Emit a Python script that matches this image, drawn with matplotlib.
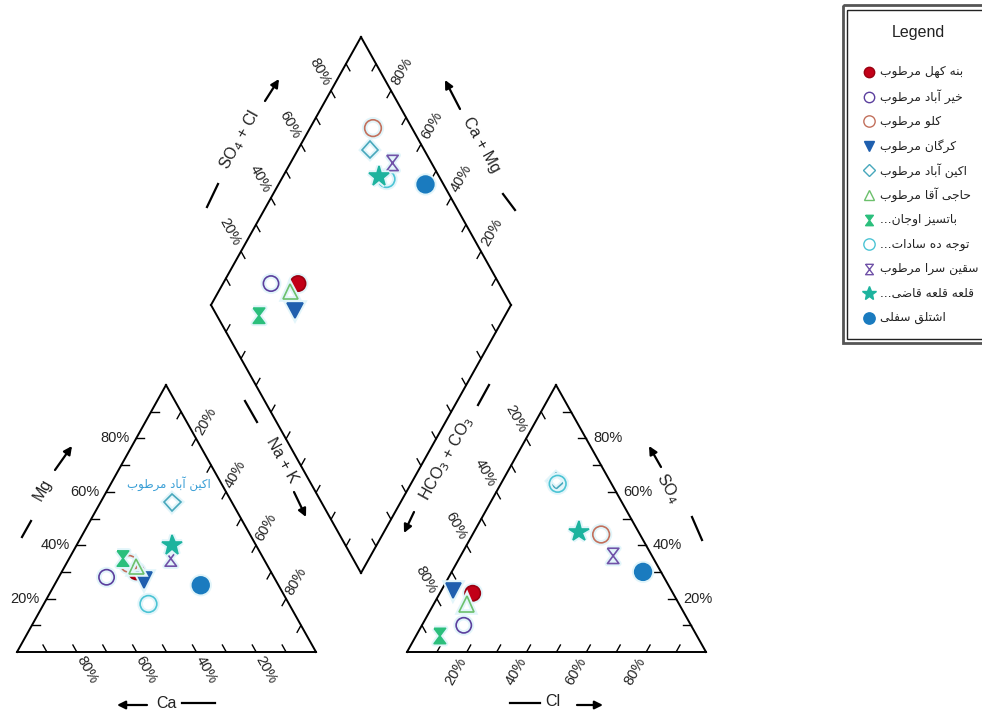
import matplotlib
matplotlib.use('Agg')
import matplotlib.pyplot as plt
import matplotlib.patheffects as pe
from matplotlib.patches import Rectangle
import numpy as np

# Sample names (Persian, logical order)
names = ['بنه کهل مرطوب', 'خیر آباد مرطوب', 'کلو مرطوب', 'کرگان مرطوب',
         'اکین آباد مرطوب', 'حاجی آقا مرطوب', 'باتسیز اوجان...',
         'توجه ده سادات...', 'سقین سرا مرطوب', 'قلعه قلعه قاضی...',
         'اشتلق سفلی']

# Cations (% meq/l)
ca = np.array([45, 56, 46, 44, 20, 44, 47, 47, 31, 28, 26])
mg = np.array([30, 28, 33, 27, 56, 32, 35, 18, 35, 40, 25])
nak = 100 - ca - mg

# Anions (% meq/l)
so4 = np.array([22, 10, 44, 23, 64, 18, 6, 63, 36, 45, 30])
cl = np.array([11, 14, 43, 4, 18, 11, 8, 19, 51, 35, 64])
hco3 = 100 - so4 - cl

# marker styles
hourglass = [(-0.75, 1), (0.75, 1), (0, 0), (0.75, -1), (-0.75, -1), (0, 0), (-0.75, 1)]
styles = [
    dict(marker='o', mfc='#c20018', mec='#9a0010', ms=11),
    dict(marker='o', mfc='none', mec='#5b3f9e', ms=11),
    dict(marker='o', mfc='none', mec='#c2705c', ms=12),
    dict(marker='v', mfc='#1f5fae', mec='#1f5fae', ms=11),
    dict(marker='D', mfc='none', mec='#48a8bc', ms=8.5),
    dict(marker='^', mfc='none', mec='#6cc06c', ms=11),
    dict(marker=hourglass, mfc='#2bbf7c', mec='#2bbf7c', ms=11),
    dict(marker='o', mfc='none', mec='#4cc4d4', ms=12),
    dict(marker=hourglass, mfc='none', mec='#7052a8', ms=11),
    dict(marker='*', mfc='#1db39e', mec='#1db39e', ms=15),
    dict(marker='o', mfc='#1a7bbf', mec='#1a7bbf', ms=12),
]

# ---- simple Persian shaping (presentation forms, visual order) ----
FORMS = {
    '\u0627': '\uFE8D\uFE8E', '\u0622': '\uFE81\uFE82', '\u062F': '\uFEA9\uFEAA',
    '\u0631': '\uFEAD\uFEAE', '\u0632': '\uFEAF\uFEB0', '\u0648': '\uFEED\uFEEE',
    '\u0628': '\uFE8F\uFE90\uFE91\uFE92', '\u062A': '\uFE95\uFE96\uFE97\uFE98',
    '\u062C': '\uFE9D\uFE9E\uFE9F\uFEA0', '\u062D': '\uFEA1\uFEA2\uFEA3\uFEA4',
    '\u062E': '\uFEA5\uFEA6\uFEA7\uFEA8', '\u0633': '\uFEB1\uFEB2\uFEB3\uFEB4',
    '\u0634': '\uFEB5\uFEB6\uFEB7\uFEB8', '\u0636': '\uFEBD\uFEBE\uFEBF\uFEC0',
    '\u0637': '\uFEC1\uFEC2\uFEC3\uFEC4', '\u0639': '\uFEC9\uFECA\uFECB\uFECC',
    '\u0641': '\uFED1\uFED2\uFED3\uFED4', '\u0642': '\uFED5\uFED6\uFED7\uFED8',
    '\u0644': '\uFEDD\uFEDE\uFEDF\uFEE0', '\u0645': '\uFEE1\uFEE2\uFEE3\uFEE4',
    '\u0646': '\uFEE5\uFEE6\uFEE7\uFEE8', '\u0647': '\uFEE9\uFEEA\uFEEB\uFEEC',
    '\u06A9': '\uFB8E\uFB8F\uFB90\uFB91', '\u06AF': '\uFB92\uFB93\uFB94\uFB95',
    '\u06CC': '\uFBFC\uFBFD\uFBFE\uFBFF',
}


def farsi(s):
    s = s.replace('\u0643', '\u06A9').replace('\u064A', '\u06CC')
    out = []
    for i, c in enumerate(s):
        f = FORMS.get(c)
        if f is None:
            out.append(c)
            continue
        prev = s[i - 1] if i > 0 else ''
        nxt = s[i + 1] if i + 1 < len(s) else ''
        jp = prev in FORMS and len(FORMS[prev]) == 4
        jn = len(f) == 4 and nxt in FORMS
        if jp and jn:
            out.append(f[3])
        elif jp:
            out.append(f[1])
        elif jn:
            out.append(f[2])
        else:
            out.append(f[0])
    return ''.join(out[::-1])


LAT = ['Liberation Sans', 'DejaVu Sans']
FA = ['DejaVu Sans']

fig = plt.figure(figsize=(9.82, 7.13), dpi=100)
ax = fig.add_axes([0, 0, 1, 1])
ax.set_xlim(0, 982)
ax.set_ylim(713, 0)
ax.axis('off')

# layout (pixel space)
C_CA, C_MG, C_NA = np.array([17., 652.]), np.array([166., 385.]), np.array([316., 652.])
A_HC, A_SO, A_CL = np.array([407., 652.]), np.array([556., 385.]), np.array([706., 652.])
D_L, D_T, D_B = np.array([211., 305.]), np.array([361., 37.]), np.array([361., 573.])
D_R = D_T + D_B - D_L


def unit(v):
    return v / np.hypot(*v)


def rot(v):
    return np.degrees(np.arctan2(-v[1], v[0]))


def edge(p, q, d, length=8):
    ax.plot([p[0], q[0]], [p[1], q[1]], color='k', lw=1.4, solid_capstyle='projecting')
    d = unit(d)
    for t in np.arange(1, 10) / 10:
        a = p + t * (q - p)
        b = a + length * d
        ax.plot([a[0], b[0]], [a[1], b[1]], color='k', lw=1)


def labels(p, q, ts, vals, out=None, off=21, ha='center', dx=0):
    for t, v in zip(ts, vals):
        a = p + t * (q - p)
        if out is None:
            ax.text(a[0] + dx, a[1], f'{v}%', ha=ha, va='center', fontsize=10.5,
                    family=LAT, color='#222222')
        else:
            o = unit(out)
            c = a + off * o
            r = rot(o)
            if r > 90:
                r -= 180
            elif r < -90:
                r += 180
            ax.text(c[0], c[1], f'{v}%', ha='center', va='center', rotation=r,
                    rotation_mode='anchor', fontsize=10.5, family=LAT, color='#222222')


ts = [0.2, 0.4, 0.6, 0.8]

# cation triangle
edge(C_CA, C_NA, C_MG - C_NA)
edge(C_NA, C_MG, C_CA - C_MG)
edge(C_MG, C_CA, C_NA - C_CA)
labels(C_CA, C_NA, ts, [80, 60, 40, 20], out=C_NA - C_MG, off=20)
labels(C_CA, C_MG, ts, [20, 40, 60, 80], ha='right', dx=-7)
labels(C_MG, C_NA, ts, [20, 40, 60, 80], out=C_MG - C_CA, off=20)

# anion triangle
edge(A_HC, A_CL, A_SO - A_HC)
edge(A_CL, A_SO, A_HC - A_CL)
edge(A_SO, A_HC, A_CL - A_SO)
labels(A_HC, A_CL, ts, [20, 40, 60, 80], out=A_HC - A_SO, off=22)
labels(A_CL, A_SO, ts, [20, 40, 60, 80], ha='left', dx=7)
labels(A_SO, A_HC, ts, [20, 40, 60, 80], out=A_SO - A_CL, off=22)

# diamond
edge(D_L, D_T, D_B - D_L)
edge(D_T, D_R, D_L - D_T)
edge(D_R, D_B, D_T - D_R)
edge(D_B, D_L, D_T - D_L)
labels(D_L, D_T, ts, [20, 40, 60, 80], out=D_L - D_B, off=22)
labels(D_T, D_R, ts, [80, 60, 40, 20], out=D_T - D_L, off=22)

# axis titles with arrows
arrow = dict(arrowstyle='-|>', color='k', lw=1.6, mutation_scale=12, shrinkA=0, shrinkB=0)
titles = [
    ('Mg', (43, 490), 60.8, [(22, 537), (31, 521)], [(55, 470), (72, 446)]),
    ('Ca', (166, 703), 0, [(182, 703), (215, 703)], [(147, 705), (117, 705)]),
    ('Na + K', (282, 460), -60.8, [(245, 401), (257, 422)], [(294, 492), (306, 517)]),
    ('HCO$_3$ + CO$_3$', (447, 458), 60.8, [(478, 405), (489, 385)], [(414, 512), (404, 533)]),
    ('SO$_4$', (668, 488), -60.8, [(692, 517), (702, 540)], [(661, 467), (649, 446)]),
    ('Cl', (553, 702), 0, [(510, 703), (540, 703)], [(577, 705), (603, 705)]),
    ('SO$_4$ + Cl', (240, 140), 60.8, [(207, 207), (218, 184)], [(265, 101), (279, 79)]),
    ('Ca + Mg', (481, 145), -60.8, [(503, 194), (515, 210)], [(460, 109), (445, 80)]),
]
for txt, pos, r, seg, arr in titles:
    ax.text(pos[0], pos[1], txt, ha='center', va='center', rotation=r,
            rotation_mode='anchor', fontsize=11.5, family=LAT, color='#222222')
    ax.plot([seg[0][0], seg[1][0]], [seg[0][1], seg[1][1]], color='k', lw=1.6)
    ax.annotate('', xy=arr[1], xytext=arr[0], arrowprops=arrow)

# sample positions
cat_xy = (np.outer(ca, C_CA) + np.outer(mg, C_MG) + np.outer(nak, C_NA)) / 100
an_xy = (np.outer(hco3, A_HC) + np.outer(so4, A_SO) + np.outer(cl, A_CL)) / 100
s = (so4 + cl) / 100
n = nak / 100
dm_xy = D_L + np.outer(s, D_T - D_L) + np.outer(n, D_B - D_L)

halo = [pe.withStroke(linewidth=4, foreground='#e2f5fa')]
for i, st in enumerate(styles):
    pts = np.array([cat_xy[i], an_xy[i], dm_xy[i]])
    ax.plot(pts[:, 0], pts[:, 1], ls='none', mew=1.2, zorder=5,
            path_effects=halo, **st)

# point label in the cation triangle
ax.text(cat_xy[4][0] - 3, cat_xy[4][1] - 19, farsi(names[4]), ha='center', va='center',
        fontsize=8.5, family=FA, color='#3a9fd6', zorder=6)

# legend box
ax.add_patch(Rectangle((843, 5), 200, 338, fill=False, ec='#555555', lw=2, zorder=3))
ax.add_patch(Rectangle((847.5, 9.5), 200, 329, fill=False, ec='#222222', lw=1, zorder=3))
ax.text(918, 33, 'Legend', ha='center', va='center', fontsize=11.5, family=LAT,
        color='#222222')
for i, st in enumerate(styles):
    y = 72 + i * 24.6
    st2 = dict(st)
    st2['ms'] = st['ms'] * 0.68
    ax.plot([869], [y], ls='none', mew=1, zorder=5, **st2)
    ax.text(880, y, farsi(names[i]), ha='left', va='center', fontsize=8.8,
            family=FA, color='#222222')

fig.savefig('out.png', dpi=100, facecolor='white')
